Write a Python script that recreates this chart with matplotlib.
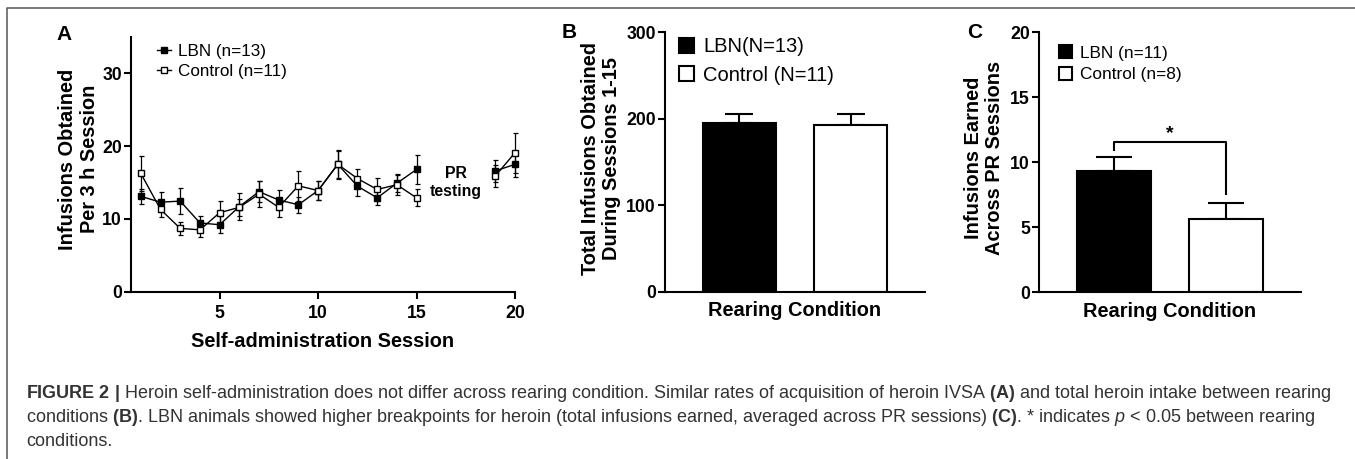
import numpy as np
import matplotlib
matplotlib.use('Agg')
from matplotlib import pyplot as plt
from matplotlib.lines import Line2D


# panel A: infusions per 3 h session (mean, sem)
sessions = [1, 2, 3, 4, 5, 6, 7, 8, 9, 10, 11, 12, 13, 14, 15, 19, 20]
lbn_mean = [13.1, 12.3, 12.45, 9.45, 9.2, 11.7, 13.75, 12.6, 11.95, 13.9, 17.5, 14.5, 12.9, 14.9, 16.8, 16.6, 17.5]
lbn_sem = [1.0, 1.35, 1.75, 1.0, 1.2, 1.8, 1.45, 1.4, 1.1, 1.35, 2.0, 1.3, 1.0, 1.25, 2.0, 1.5, 1.7]
ctrl_mean = [16.25, 11.3, 8.7, 8.5, 10.85, 11.6, 13.4, 11.6, 14.55, 13.9, 17.5, 15.55, 14.05, 14.7, 12.9, 15.9, 19.1]
ctrl_sem = [2.45, 1.1, 0.9, 0.95, 1.55, 1.2, 1.8, 1.3, 2.05, 1.3, 1.9, 1.3, 1.55, 1.4, 1.15, 1.5, 2.75]
a_labels = ['LBN (n=13)', 'Control (n=11)']
a_xticks = [5, 10, 15, 20]
a_yticks = [0, 10, 20, 30]

# panel B: total infusions sessions 1-15
b_labels = ['LBN(N=13)', 'Control (N=11)']
b_mean = [195.0, 192.5]
b_sem = [10.0, 13.0]
b_yticks = [0, 100, 200, 300]

# panel C: infusions across PR sessions
c_labels = ['LBN (n=11)', 'Control (n=8)']
c_mean = [9.35, 5.66]
c_sem = [1.08, 1.23]
c_yticks = [0, 5, 10, 15, 20]

caption_lines = [
    r"$\mathbf{FIGURE\ 2\ |}$ Heroin self-administration does not differ across rearing condition. "
    r"Similar rates of acquisition of heroin IVSA $\mathbf{(A)}$ and total heroin intake between rearing",
    r"conditions $\mathbf{(B)}$. LBN animals showed higher breakpoints for heroin (total infusions earned, "
    r"averaged across PR sessions) $\mathbf{(C)}$. * indicates $p$ < 0.05 between rearing",
    "conditions.",
]

W, H = 1355, 459
DPI = 100
LABEL_SIZE = 14.4
TICK_SIZE = 12.7
LW = 1.5

plt.rcParams['font.family'] = ['Liberation Sans', 'DejaVu Sans']
plt.rcParams['mathtext.fontset'] = 'custom'
plt.rcParams['mathtext.rm'] = 'Liberation Sans'
plt.rcParams['mathtext.bf'] = 'Liberation Sans:bold'
plt.rcParams['mathtext.it'] = 'Liberation Sans:italic'


def px_axes(fig, left, top, right, bottom):
    # axes box given in pixel coords of the 1355x459 picture
    return fig.add_axes([left / W, 1 - bottom / H, (right - left) / W, (bottom - top) / H])


def style_axes(ax, yticks):
    for side in ('top', 'right'):
        ax.spines[side].set_visible(False)
    for side in ('left', 'bottom'):
        ax.spines[side].set_linewidth(LW)
    ax.set_yticks(yticks)
    ax.tick_params(width=LW, length=5, pad=1.5, labelsize=TICK_SIZE)
    for lab in ax.get_yticklabels() + ax.get_xticklabels():
        lab.set_fontweight('bold')


def plot_series(ax, x, y, err, face):
    x = np.array(x)
    y = np.array(y)
    err = np.array(err)
    # gap between session 15 and the PR sessions
    for part in (x <= 15, x > 15):
        ax.errorbar(x[part], y[part], yerr=err[part], fmt='-s', color='k', mfc=face, mec='k',
                    ms=4.2, lw=1.0, elinewidth=0.9, capsize=1.8, capthick=0.9, clip_on=False, zorder=3)


def bar_panel(ax, means, sems, labels, capsize, leg_fs, leg_anchor, leg_space):
    pos = np.arange(len(means))
    bars = ax.bar(pos, means, width=0.66, color=['black', 'white'], edgecolor='black', linewidth=LW,
                  zorder=2)
    ax.errorbar(pos, means, yerr=[np.zeros(len(sems)), sems], fmt='none', ecolor='black',
                elinewidth=LW, capsize=capsize, capthick=LW, zorder=1)
    ax.set_xlim(-0.67, 1.67)
    ax.set_xticks([])
    ax.legend(bars, labels, loc='upper left', bbox_to_anchor=leg_anchor, frameon=False,
              fontsize=leg_fs, handlelength=0.75, handleheight=0.75, handletextpad=0.45,
              labelspacing=leg_space, borderpad=0, borderaxespad=0)
    ax.set_xlabel('Rearing Condition', fontsize=LABEL_SIZE, fontweight='bold', labelpad=7)
    return pos


def main():
    fig = plt.figure(figsize=(W / DPI, H / DPI), dpi=DPI)

    # ---- A
    ax = px_axes(fig, 131, 37, 515, 291.7)
    plot_series(ax, sessions, lbn_mean, lbn_sem, 'black')
    plot_series(ax, sessions, ctrl_mean, ctrl_sem, 'white')
    ax.set_xlim(0.5, 20)
    ax.set_ylim(0, 35)
    ax.set_xticks(a_xticks)
    style_axes(ax, a_yticks)
    ax.tick_params(axis='x', pad=4.5)
    ax.set_xlabel('Self-administration Session', fontsize=LABEL_SIZE, fontweight='bold', labelpad=7)
    ax.text(-0.138, 0.52, 'Infusions Obtained\nPer 3 h Session', transform=ax.transAxes, rotation=90,
            ha='center', va='center', fontsize=LABEL_SIZE, fontweight='bold', linespacing=1.2)
    ax.text(17, 15, 'PR\ntesting', ha='center', va='center', fontsize=11.4, fontweight='bold')
    handles = [Line2D([], [], color='k', marker='s', mfc=f, mec='k', ms=4.2, lw=1.0)
               for f in ('black', 'white')]
    ax.legend(handles, a_labels, loc='upper left', bbox_to_anchor=(0.068, 0.972), frameon=False,
              fontsize=12.3, handlelength=0.8, handletextpad=0.45, labelspacing=0.27,
              borderpad=0, borderaxespad=0)

    # ---- B
    ax = px_axes(fig, 665, 32.3, 925, 291.7)
    bar_panel(ax, b_mean, b_sem, b_labels, 10, 14.5, (0.054, 0.98), 0.45)
    ax.set_ylim(0, 300)
    style_axes(ax, b_yticks)
    ax.text(-0.246, 0.515, 'Total Infusions Obtained\nDuring Sessions 1-15', transform=ax.transAxes,
            rotation=90, ha='center', va='center', fontsize=LABEL_SIZE, fontweight='bold',
            linespacing=1.1)

    # ---- C
    ax = px_axes(fig, 1039, 32.3, 1301, 292.3)
    pos = bar_panel(ax, c_mean, c_sem, c_labels, 13, 12.4, (0.076, 0.95), 0.37)
    ax.set_ylim(0, 20)
    style_axes(ax, c_yticks)
    ax.text(-0.21, 0.516, 'Infusions Earned\nAcross PR Sessions', transform=ax.transAxes,
            rotation=90, ha='center', va='center', fontsize=LABEL_SIZE, fontweight='bold',
            linespacing=1.1)
    tops = np.array(c_mean) + np.array(c_sem)
    y_br = tops.max() + 1.15
    ax.plot([pos[0], pos[0], pos[1], pos[1]], [tops[0] + 0.5, y_br, y_br, tops[1] + 0.65],
            color='black', lw=LW)
    ax.text(pos.mean(), y_br, '*', ha='center', va='bottom', fontsize=14, fontweight='bold')

    # panel letters
    for letter, (x, y) in zip('ABC', [(63.7, 35), (569, 33), (975, 33)]):
        fig.text(x / W, 1 - y / H, letter, ha='center', va='center', fontsize=15, fontweight='bold')

    # frame lines (top and left)
    fig.add_artist(Line2D([7 / W, 7 / W, 1], [0, 1 - 8 / H, 1 - 8 / H], transform=fig.transFigure,
                          color='#555555', lw=1.1))

    # caption, size fitted so the first line spans the same width as in the figure
    renderer = fig.canvas.get_renderer()
    probe = fig.text(0, 0, caption_lines[0], fontsize=12)
    width = probe.get_window_extent(renderer).width
    probe.remove()
    cap_size = 12 * 1304 / width
    for line, y in zip(caption_lines, [393, 418, 442]):
        fig.text(26 / W, 1 - y / H, line, ha='left', va='center', fontsize=cap_size, color='#333333')

    fig.savefig('out.png', dpi=DPI)


if __name__ == '__main__':
    main()
